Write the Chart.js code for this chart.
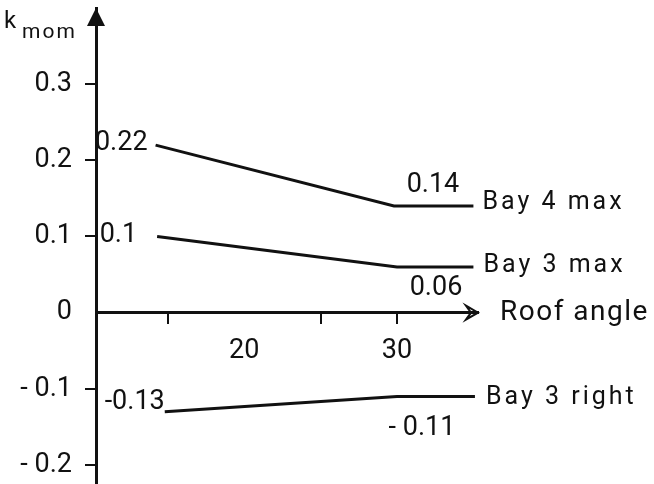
<!DOCTYPE html>
<html>
<head>
<meta charset="utf-8">
<script src="https://cdn.jsdelivr.net/npm/chart.js@4/dist/chart.umd.min.js"></script>
<style>
  html, body { margin: 0; padding: 0; background: #fff; }
  #wrap { width: 654px; height: 484px; }
</style>
</head>
<body>
<div id="wrap"><canvas id="kmomChart" width="654" height="484"></canvas></div>
<script>
/* DATA */
const seriesNames = ["Bay 4 max", "Bay 3 max", "Bay 3 right"];

const bay4MaxAngles = [14.2, 29.8, 35];
const bay4MaxValues = [0.22, 0.14, 0.14];

const bay3MaxAngles = [14.3, 30, 35];
const bay3MaxValues = [0.10, 0.06, 0.06];

const bay3RightAngles = [14.8, 30, 35.1];
const bay3RightValues = [-0.13, -0.11, -0.11];

const xTicks = [15, 20, 25, 30];
const xTickLabels = ["", "20", "", "30"];
const yTicks = [-0.2, -0.1, 0, 0.1, 0.2, 0.3];
const yTickLabels = ["- 0.2", "- 0.1", "0", "0.1", "0.2", "0.3"];

/* HELPERS */
const toPoints = (xs, ys) => xs.map((x, i) => ({ x, y: ys[i] }));
const INK = "#111";
const FONT = "Roboto, 'DejaVu Sans', sans-serif";

/* where each series puts its value labels and its name */
const placements = [
  { start: { dx: -8, dy: -2, align: "right" }, corner: { dx: 39, dy: -21 }, name: { dx: 9, dy: -3 } },
  { start: { dx: -20, dy: -1, align: "right" }, corner: { dx: 39, dy: 21 }, name: { dx: 10, dy: -1 } },
  { start: { dx: 0, dy: -9, align: "right" }, corner: { dx: 25, dy: 32 }, name: { dx: 11, dy: 1 } }
];

// the end-point labels are lettered with a gap after the minus sign
function fmt(v, spaced) {
  const s = String(v);
  return spaced && v < 0 ? "- " + s.slice(1) : s;
}

/* PLUGIN: arrows, axis names, value labels */
const annotate = {
  id: "annotate",
  afterDraw(chart) {
    const { ctx, chartArea, scales } = chart;
    const y0 = scales.y.getPixelForValue(0);
    const left = chartArea.left;
    const right = chartArea.right;

    ctx.save();
    ctx.fillStyle = INK;
    ctx.strokeStyle = INK;

    // y axis arrow
    ctx.beginPath();
    ctx.moveTo(left, chartArea.top);
    ctx.lineTo(left - 9, chartArea.top + 18);
    ctx.lineTo(left + 9, chartArea.top + 18);
    ctx.closePath();
    ctx.fill();

    // x axis arrow
    ctx.lineWidth = 2;
    ctx.beginPath();
    ctx.moveTo(right - 12, y0 - 7);
    ctx.lineTo(right, y0);
    ctx.lineTo(right - 12, y0 + 7);
    ctx.lineTo(right - 7, y0);
    ctx.closePath();
    ctx.stroke();

    // axis names
    ctx.textBaseline = "alphabetic";
    ctx.textAlign = "left";
    ctx.font = "24px " + FONT;
    ctx.letterSpacing = "0px";
    ctx.fillText("k", left - 92, 28);
    ctx.font = "21px " + FONT;
    ctx.letterSpacing = "2px";
    ctx.fillText("mom", left - 74, 38);

    ctx.textBaseline = "middle";
    ctx.font = "28px " + FONT;
    ctx.letterSpacing = "1.5px";
    ctx.fillText("Roof angle", right + 22, y0);

    // series labels
    chart.data.datasets.forEach((ds, i) => {
      const pts = chart.getDatasetMeta(i).data;
      const p = placements[i];
      const first = pts[0], corner = pts[1], last = pts[pts.length - 1];

      ctx.font = "27px " + FONT;
      ctx.letterSpacing = "0px";
      ctx.textAlign = p.start.align;
      ctx.fillText(fmt(ds.data[0].y, false), first.x + p.start.dx, first.y + p.start.dy);

      ctx.textAlign = "center";
      ctx.fillText(fmt(ds.data[1].y, true), corner.x + p.corner.dx, corner.y + p.corner.dy);

      ctx.font = "25px " + FONT;
      ctx.letterSpacing = "3px";
      ctx.textAlign = "left";
      ctx.fillText(ds.label, last.x + p.name.dx, last.y + p.name.dy);
    });

    ctx.restore();
  }
};

/* CHART */
const lineSet = (label, xs, ys) => ({
  label,
  data: toPoints(xs, ys),
  showLine: true,
  borderColor: INK,
  borderWidth: 3,
  pointRadius: 0,
  tension: 0,
  fill: false
});

new Chart(document.getElementById("kmomChart"), {
  type: "scatter",
  data: {
    datasets: [
      lineSet(seriesNames[0], bay4MaxAngles, bay4MaxValues),
      lineSet(seriesNames[1], bay3MaxAngles, bay3MaxValues),
      lineSet(seriesNames[2], bay3RightAngles, bay3RightValues)
    ]
  },
  options: {
    responsive: false,
    animation: false,
    layout: { padding: { top: 8, right: 176, bottom: 0, left: 0 } },
    plugins: {
      legend: { display: false },
      tooltip: { enabled: false }
    },
    scales: {
      x: {
        type: "linear",
        min: 10.3,
        max: 35.3,
        position: { y: 0 },
        afterBuildTicks: s => { s.ticks = xTicks.map(v => ({ value: v })); },
        afterFit: s => { s.paddingLeft = 0; s.paddingRight = 0; },
        border: { color: INK, width: 3 },
        grid: {
          drawOnChartArea: false,
          tickLength: 10,
          lineWidth: 2,
          color: c => (c.tick && c.tick.value === 20 ? "rgba(0,0,0,0)" : INK)
        },
        ticks: {
          padding: 12,
          color: INK,
          maxRotation: 0,
          autoSkip: false,
          font: { family: FONT, size: 27 },
          callback: (v, i) => xTickLabels[i]
        }
      },
      y: {
        type: "linear",
        min: -0.225,
        max: 0.4,
        position: "left",
        afterBuildTicks: s => { s.ticks = yTicks.map(v => ({ value: v })); },
        afterFit: s => { s.width = 96; s.paddingTop = 0; s.paddingBottom = 0; },
        border: { color: INK, width: 3 },
        grid: {
          drawOnChartArea: false,
          tickLength: 11,
          lineWidth: 2,
          color: c => (c.tick && c.tick.value === 0 ? "rgba(0,0,0,0)" : INK)
        },
        ticks: {
          padding: 13,
          color: INK,
          autoSkip: false,
          font: { family: FONT, size: 27 },
          callback: (v, i) => yTickLabels[i]
        }
      }
    }
  },
  plugins: [annotate]
});
</script>
</body>
</html>
